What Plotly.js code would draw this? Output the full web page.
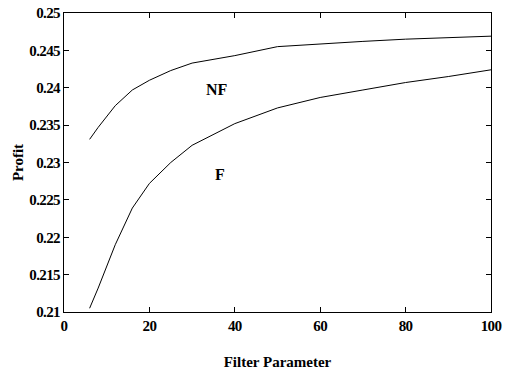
<!DOCTYPE html>
<html>
<head>
<meta charset="utf-8">
<script src="https://cdn.plot.ly/plotly-3.0.1.min.js"></script>
<style>
html,body{margin:0;padding:0;background:#fff;}
#chart{width:511px;height:371px;}
.xtick text,.ytick text{letter-spacing:-0.6px;}
</style>
</head>
<body>
<div id="chart"></div>
<script>
const filterParam = [6, 8, 12, 16, 20, 25, 30, 40, 50, 60, 70, 80, 90, 100];
const profitNF = [0.2331, 0.2347, 0.2376, 0.2397, 0.2410, 0.2423, 0.2433, 0.2443, 0.2455, 0.2459, 0.2462, 0.2465, 0.2467, 0.2469];
const profitF  = [0.2105, 0.2132, 0.2190, 0.2239, 0.2272, 0.2300, 0.2323, 0.2352, 0.2373, 0.2387, 0.2397, 0.2407, 0.2415, 0.2424];
const xTickVals = [0, 20, 40, 60, 80, 100];
const xTickText = ["0", "20", "40", "60", "80", "100"];
const yTickVals = [0.21, 0.215, 0.22, 0.225, 0.23, 0.235, 0.24, 0.245, 0.25];
const yTickText = ["0.21", "0.215", "0.22", "0.225", "0.23", "0.235", "0.24", "0.245", "0.25"];
const curveLabels = [
  {text: "NF", x: 35.9, y: 0.2397},
  {text: "F", x: 36.5, y: 0.2284}
];

const FONT = "Liberation Serif";

const traces = [
  {x: filterParam, y: profitNF, mode: "lines", line: {color: "#000", width: 1}, hoverinfo: "skip", name: "NF"},
  {x: filterParam, y: profitF, mode: "lines", line: {color: "#000", width: 1}, hoverinfo: "skip", name: "F"}
];

const axisCommon = {
  showgrid: false, zeroline: false, showline: true, linecolor: "#000", linewidth: 1,
  mirror: "ticks", ticks: "inside", ticklen: 5, tickcolor: "#000", tickwidth: 1,
  tickmode: "array",
  tickfont: {family: FONT, size: 15, color: "#000", weight: "bold"}
};

const layout = {
  width: 511, height: 371,
  margin: {l: 64, r: 20, t: 13, b: 59},
  paper_bgcolor: "#fff", plot_bgcolor: "#fff",
  showlegend: false,
  xaxis: Object.assign({}, axisCommon, {
    range: [0, 100], tickvals: xTickVals, ticktext: xTickText,
    title: {text: "Filter Parameter", font: {family: FONT, size: 15, color: "#000", weight: "bold"}, standoff: 23}
  }),
  yaxis: Object.assign({}, axisCommon, {
    range: [0.21, 0.25], tickvals: yTickVals, ticktext: yTickText,
    title: {text: "Profit", font: {family: FONT, size: 15, color: "#000", weight: "bold"}, standoff: 1}
  }),
  annotations: curveLabels.map(c => ({
    x: c.x, y: c.y, xref: "x", yref: "y", text: c.text, showarrow: false,
    font: {family: FONT, size: 16, color: "#000", weight: "bold"}
  }))
};

Plotly.newPlot("chart", traces, layout, {displayModeBar: false, staticPlot: true});
</script>
</body>
</html>
